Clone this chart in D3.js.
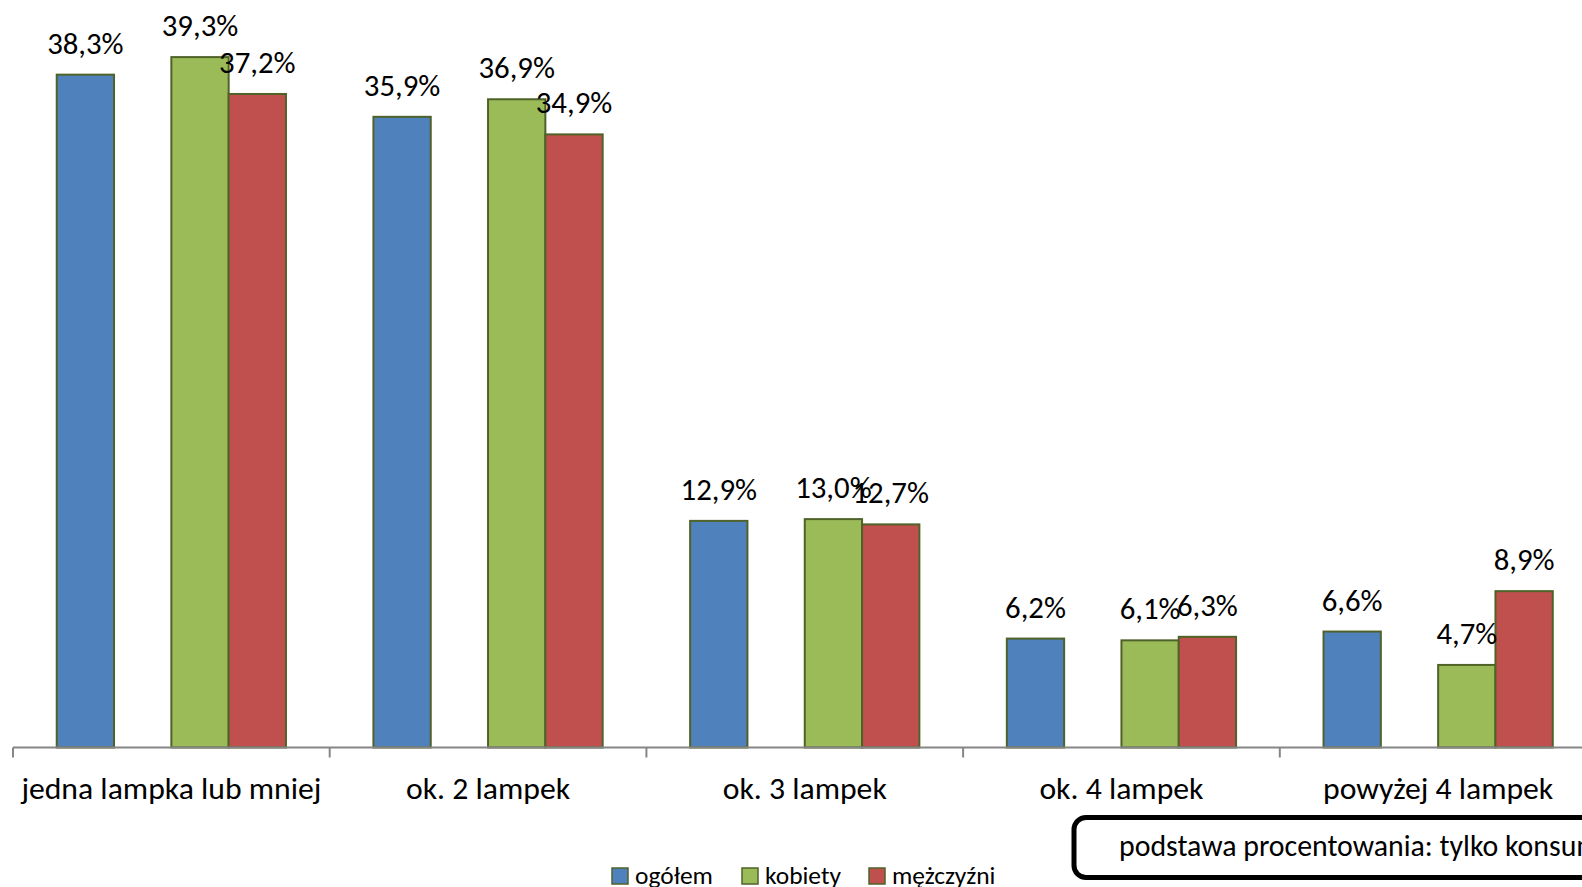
<!DOCTYPE html>
<html><head><meta charset="utf-8">
<script src="https://cdn.jsdelivr.net/npm/d3@7"></script>
<style>
html,body{margin:0;padding:0;overflow:hidden;background:#fff;}
svg{display:block;}
text{font-family:Carlito,Calibri,Lato,"Open Sans",sans-serif;fill:#000;}
</style></head>
<body>
<svg id="chart" width="1582" height="887"></svg>
<script>
const categories = ["jedna lampka lub mniej","ok. 2 lampek","ok. 3 lampek","ok. 4 lampek","powyżej 4 lampek"];
const seriesNames = ["ogółem","kobiety","mężczyźni"];
const ogolem   = [38.3, 35.9, 12.9, 6.2, 6.6];
const kobiety  = [39.3, 36.9, 13.0, 6.1, 4.7];
const mezczyzni= [37.2, 34.9, 12.7, 6.3, 8.9];
const seriesValues = [ogolem, kobiety, mezczyzni];
const colors = ["#4f81bd","#9bbb59","#c0504d"];
const slots = ["ogółem","(pusty)","kobiety","mężczyźni"]; // Excel layout leaves an empty slot
const note = "podstawa procentowania: tylko konsumenci";

const svg = d3.select("#chart");
const W = 1582, H = 887;

const x0 = d3.scaleBand().domain(categories).range([13, 13 + 5*316.7]).paddingInner(0).paddingOuter(0);
const x1 = d3.scaleBand().domain(slots).range([0, x0.bandwidth()]).paddingInner(0).paddingOuter(0.763);
const y = d3.scaleLinear().domain([0, 42.55]).range([747.5, 0]);

const fmt = v => d3.format(".1f")(v).replace(".", ",") + "%";

// fit font size to a target width (matching the reference's Calibri metrics)
function fitSize(sample, target, base) {
  const t = svg.append("text").attr("font-size", base).text(sample);
  const w = t.node().getComputedTextLength();
  t.remove();
  return base * target / w;
}
const labelSize = fitSize("38,3%", 76.5, 30);
const catSize = fitSize("jedna lampka lub mniej", 300, 26);
const legSize = fitSize("ogółem", 78, 24);
const noteSize = fitSize("podstawa procentowania:", 314, 24);

const data = [];
categories.forEach((c, i) => {
  seriesNames.forEach((s, j) => data.push({cat: c, series: s, value: seriesValues[j][i], color: colors[j]}));
});

// bars
svg.append("g").selectAll("rect").data(data).join("rect")
  .attr("x", d => x0(d.cat) + x1(d.series))
  .attr("y", d => y(d.value))
  .attr("width", x1.bandwidth())
  .attr("height", d => y(0) - y(d.value))
  .attr("fill", d => d.color)
  .attr("stroke", "#4f6228")
  .attr("stroke-width", 2);

// axis
const axisG = svg.append("g");
axisG.append("line").attr("x1", x0.range()[0]).attr("x2", W).attr("y1", y(0)).attr("y2", y(0))
  .attr("stroke", "#868686").attr("stroke-width", 2);
axisG.selectAll("line.tick").data(categories).join("line").attr("class","tick")
  .attr("x1", d => x0(d)).attr("x2", d => x0(d))
  .attr("y1", y(0)).attr("y2", y(0) + 10)
  .attr("stroke", "#868686").attr("stroke-width", 2);
axisG.selectAll("text").data(categories).join("text")
  .attr("x", d => x0(d) + x0.bandwidth()/2)
  .attr("y", 799)
  .attr("text-anchor", "middle")
  .attr("font-size", catSize)
  .text(d => d);

// value labels
svg.append("g").selectAll("text").data(data).join("text")
  .attr("x", d => x0(d.cat) + x1(d.series) + x1.bandwidth()/2)
  .attr("y", d => y(d.value) - 21)
  .attr("text-anchor", "middle")
  .attr("font-size", labelSize)
  .text(d => fmt(d.value));

// legend
const legX = [612, 742, 869];
const leg = svg.append("g").selectAll("g").data(seriesNames).join("g")
  .attr("transform", (d, i) => `translate(${legX[i]},868)`);
leg.append("rect").attr("width", 16).attr("height", 16)
  .attr("fill", (d, i) => colors[i]).attr("stroke", "#4f6228").attr("stroke-width", 1.5);
leg.append("text").attr("x", 23).attr("y", 15.5).attr("font-size", legSize).text(d => d);

// note box
svg.append("rect").attr("x", 1074).attr("y", 817.5).attr("width", 700).attr("height", 60)
  .attr("rx", 12).attr("fill", "#fff").attr("stroke", "#000").attr("stroke-width", 5);
svg.append("text").attr("x", 1119).attr("y", 856).attr("font-size", noteSize).text(note);
</script>
</body></html>
